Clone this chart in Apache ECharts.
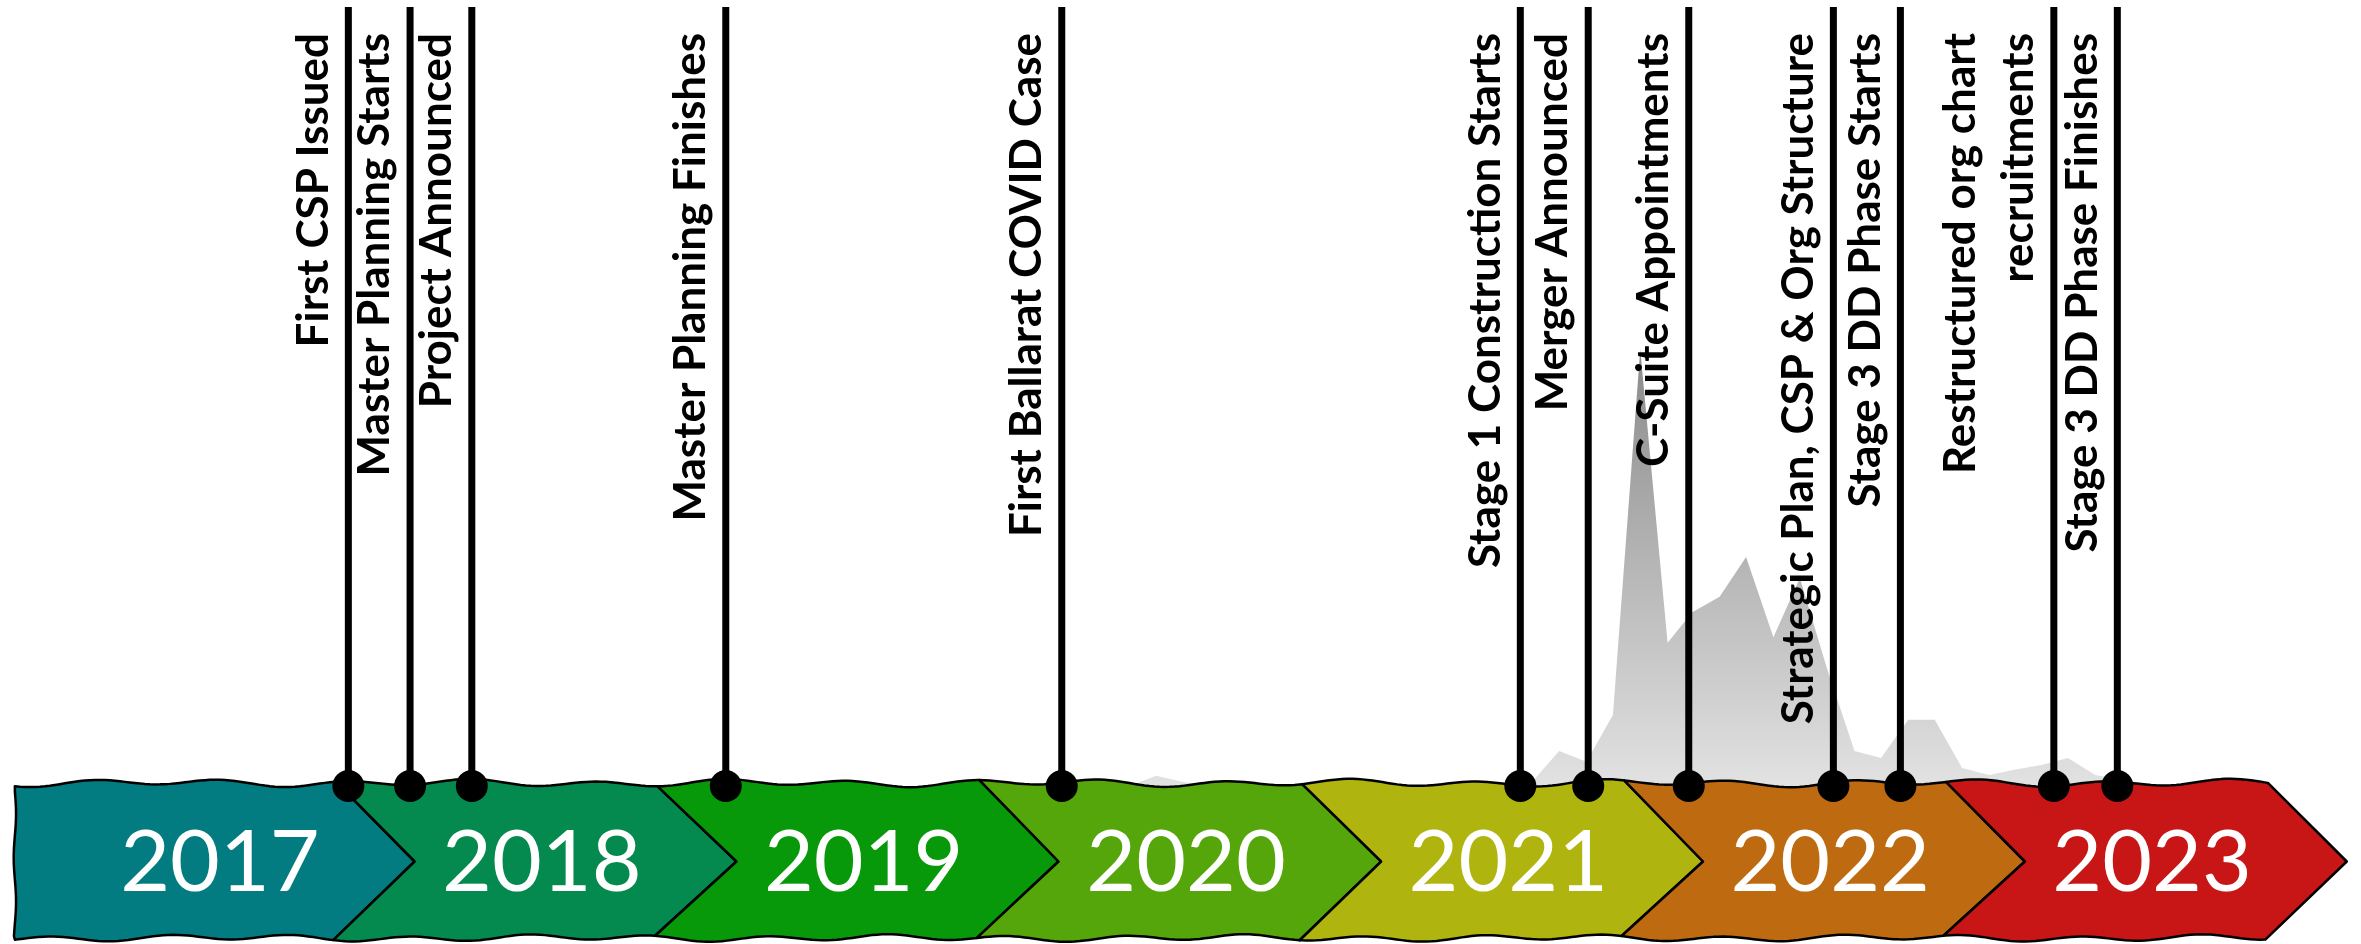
<!DOCTYPE html>
<html><head><meta charset="utf-8">
<script src="https://cdn.jsdelivr.net/npm/echarts@6/dist/echarts.min.js"></script>
<style>html,body{margin:0;padding:0;background:#fff}#c{width:2361px;height:944px}</style>
</head><body><div id="c"></div>
<script>
// ---- data ----
const years = ['2017','2018','2019','2020','2021','2022','2023'];
const yearColors = ['#027C80','#048A4E','#08990A','#54A60A','#B0B40E','#BE6A10','#C81616'];

const eventDates = ['2017-12-28','2018-03-08','2018-05-17','2019-03-01','2020-03-16','2021-08-18',
                    '2021-11-03','2022-02-25','2022-08-08','2022-10-23','2023-04-15','2023-06-26'];
const eventLabels = ['First CSP Issued','Master Planning Starts','Project Announced','Master Planning Finishes',
                     'First Ballarat COVID Case','Stage 1 Construction Starts','Merger Announced','C-Suite Appointments',
                     'Strategic Plan, CSP & Org Structure','Stage 3 DD Phase Starts','Restructured org chart\nrecruitments',
                     'Stage 3 DD Phase Finishes'];

const caseMonths = ['2020-03-01','2020-04-01','2020-05-01','2020-06-01','2020-07-01','2020-08-01','2020-09-01','2020-10-01','2020-11-01','2020-12-01',
                    '2021-01-01','2021-02-01','2021-03-01','2021-04-01','2021-05-01','2021-06-01','2021-07-01','2021-08-01','2021-09-01','2021-10-01','2021-11-01','2021-12-01',
                    '2022-01-01','2022-02-01','2022-03-01','2022-04-01','2022-05-01','2022-06-01','2022-07-01','2022-08-01','2022-09-01','2022-10-01','2022-11-01','2022-12-01',
                    '2023-01-01','2023-02-01','2023-03-01','2023-04-01','2023-05-01','2023-06-01','2023-07-01','2023-08-01','2023-09-01','2023-10-01','2023-11-01','2023-12-01'];
const caseValues = [0,0,0,0,13,5,0,0,0,0,
                    0,0,0,0,0,0,0,2,6,45,31,91,
                    560,184,223,243,294,191,267,150,45,36,85,85,
                    23,14,21,27,36,14,8,3,1,1,8,6];
const yMax = 1000;

// ---- chart ----
const chart = echarts.init(document.getElementById('c'), null, {renderer:'canvas'});

function wTop(x, top){ return top + 2.8*Math.sin(x/20) + 1.4*Math.sin(x/47 + 1.3); }
function wBot(x, bot){ return bot - 2 + 2.6*Math.sin(x/19 + 2) + 1.2*Math.sin(x/53 + 0.4); }

function chevronItem(params, api){
  const i = api.value(2);
  const s = api.coord([api.value(0), 1]);
  const e = api.coord([api.value(1), 0]);
  const x0 = s[0], x1 = e[0], top = s[1], bot = e[1], mid = (top+bot)/2;
  const W = x1 - x0;
  const tipD = 0.195*W, topD = 0.05*W, botD = 0.058*W;
  const pts = [];
  let leftTopX, leftBotX;
  if (i === 0){ leftTopX = x0 - 0.047*W; leftBotX = leftTopX; }
  else { leftTopX = x0 - topD; leftBotX = x0 - botD; }
  for (let x = leftTopX; x < x1 - topD; x += 5) pts.push([x, wTop(x, top)]);
  pts.push([x1 - topD, wTop(x1 - topD, top)]);
  pts.push([x1 + tipD, mid]);
  for (let x = x1 - botD; x > leftBotX; x -= 5) pts.push([x, wBot(x, bot)]);
  pts.push([leftBotX, wBot(leftBotX, bot)]);
  if (i === 0){
    for (let y = bot - 4; y > top + 4; y -= 8) pts.push([leftTopX + 1.2*Math.sin(y/14), y]);
  } else {
    pts.push([x0 + tipD, mid]);
  }
  return {
    type:'group',
    children:[
      {type:'polygon', shape:{points:pts}, style:{fill:yearColors[i], stroke:'#000', lineWidth:2.5, lineJoin:'round'}},
      {type:'text', x:(x0+x1)/2 + 0.09*W, y:mid + 2,
       style:{text:years[i], fill:'#fff', font:'86px Lato', align:'center', verticalAlign:'middle'}}
    ]
  };
}

function eventItem(params, api){
  const idx = api.value(1);
  const b = api.coord([api.value(0), 0]);
  const t = api.coord([api.value(0), yMax]);
  const lx = b[0];
  return {
    type:'group',
    children:[
      {type:'line', shape:{x1:lx, y1:t[1], x2:lx, y2:b[1]}, style:{stroke:'#000', lineWidth:7}},
      {type:'circle', shape:{cx:lx, cy:b[1], r:16}, style:{fill:'#000'}},
      {type:'text', x:lx - 6, y:t[1] + 26, rotation:Math.PI/2,
       style:{text:eventLabels[idx], font:'bold 44px Lato', fill:'#000', align:'right', verticalAlign:'bottom', lineHeight:58}}
    ]
  };
}

const xRange = {min:'2017-01-01', max:'2024-01-01'};

chart.setOption({
  animation:false,
  backgroundColor:'#fff',
  grid:[
    {left:30, right:77, top:7, bottom:158},
    {left:30, right:77, top:783, bottom:4}
  ],
  xAxis:[
    Object.assign({type:'time', gridIndex:0, show:false}, xRange),
    Object.assign({type:'time', gridIndex:1, show:false}, xRange)
  ],
  yAxis:[
    {type:'value', gridIndex:0, min:0, max:yMax, show:false},
    {type:'value', gridIndex:1, min:0, max:1, show:false}
  ],
  series:[
    {
      type:'line', xAxisIndex:0, yAxisIndex:0, z:1, silent:true,
      data: caseMonths.map((m,i)=>[m, caseValues[i]]),
      showSymbol:false, lineStyle:{width:0},
      areaStyle:{opacity:1, color:new echarts.graphic.LinearGradient(0,0,0,1,[
        {offset:0, color:'#8a8a8a'},{offset:1, color:'#e2e2e2'}])}
    },
    {
      type:'custom', xAxisIndex:1, yAxisIndex:1, z:2, clip:false, silent:true,
      renderItem: chevronItem,
      encode:{x:[0,1]},
      data: years.map((y,i)=>[y+'-01-01', (+y+1)+'-01-01', i])
    },
    {
      type:'custom', xAxisIndex:0, yAxisIndex:0, z:3, clip:false, silent:true,
      renderItem: eventItem,
      encode:{x:0},
      data: eventDates.map((d,i)=>[d, i])
    }
  ]
});
</script>
</body></html>
